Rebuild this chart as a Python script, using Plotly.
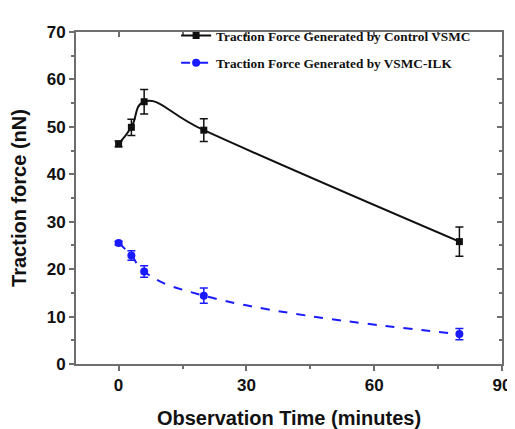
import plotly.graph_objects as go

time_min = [0, 3, 6, 20, 80]
control_force = [46.4, 49.9, 55.3, 49.3, 25.8]
control_err = [0.6, 1.7, 2.6, 2.4, 3.1]
ilk_force = [25.5, 22.9, 19.5, 14.4, 6.3]
ilk_err = [0.4, 1.0, 1.2, 1.6, 1.2]

x_ticks = [0, 30, 60, 90]
y_ticks = [0, 10, 20, 30, 40, 50, 60, 70]

AXC = "#6e6e6e"
fig = go.Figure()
fig.add_trace(go.Scatter(
    x=time_min, y=control_force, mode="lines+markers",
    name="<b>Traction Force Generated by Control VSMC</b>",
    line=dict(color="#111111", width=2, shape="spline", smoothing=1.3),
    marker=dict(symbol="square", size=7, color="#111111"),
    error_y=dict(type="data", array=control_err, color="#111111", thickness=1.5, width=4),
    legend="legend"))
fig.add_trace(go.Scatter(
    x=time_min, y=ilk_force, mode="lines+markers",
    name="<b>Traction Force Generated by VSMC-ILK</b>",
    line=dict(color="#1a1aff", width=2, shape="spline", smoothing=1.3, dash="dash"),
    marker=dict(symbol="circle", size=8, color="#1a1aff"),
    error_y=dict(type="data", array=ilk_err, color="#1a1aff", thickness=1.5, width=4),
    legend="legend2"))
fig.add_trace(go.Scatter(x=[None], y=[None], xaxis="x2", yaxis="y2", showlegend=False))

axfont = dict(family="Arial", size=17, color="#111111", weight="bold")
ttlfont = dict(family="Arial", size=20, color="#111111")
common = dict(showline=True, linecolor=AXC, linewidth=2, showgrid=False, zeroline=False,
              tickwidth=1.5, tickcolor=AXC, ticklen=5, automargin=False)
fig.update_layout(
    width=507, height=421,
    margin=dict(l=68, r=13, t=16, b=65),
    paper_bgcolor="white", plot_bgcolor="white",
    xaxis=dict(range=[-10, 90], tickvals=x_ticks, ticks="outside", tickfont=axfont,
               title=dict(text="<b>Observation Time (minutes)</b>", font=ttlfont, standoff=17),
               minor=dict(dtick=15, tick0=0, ticks="outside", ticklen=3, tickcolor=AXC), **common),
    yaxis=dict(range=[0, 70], tickvals=y_ticks, ticks="outside", tickfont=axfont,
               title=dict(text="<b>Traction force (nN)</b>", font=ttlfont, standoff=15),
               minor=dict(dtick=5, tick0=0, ticks="outside", ticklen=3, tickcolor=AXC), **common),
    xaxis2=dict(range=[-10, 90], overlaying="x", side="top", tickvals=x_ticks, ticks="inside",
                showticklabels=False,
                minor=dict(dtick=15, tick0=0, ticks="inside", ticklen=3, tickcolor=AXC), **common),
    yaxis2=dict(range=[0, 70], overlaying="y", side="right", tickvals=y_ticks, ticks="inside",
                showticklabels=False,
                minor=dict(dtick=5, tick0=0, ticks="inside", ticklen=3, tickcolor=AXC), **common),
    legend=dict(x=0.235, y=1.035, xanchor="left", yanchor="top", bgcolor="rgba(0,0,0,0)",
                font=dict(family="Liberation Serif", size=13.3, color="#111111")),
    legend2=dict(x=0.235, y=0.953, xanchor="left", yanchor="top", bgcolor="rgba(0,0,0,0)",
                 font=dict(family="Liberation Serif", size=13.3, color="#111111")),
)
fig.write_html("out.html")
